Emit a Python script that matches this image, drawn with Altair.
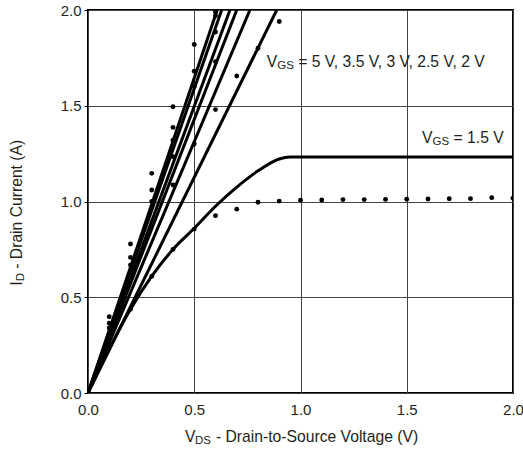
import altair as alt
import pandas as pd

FONT = "Liberation Sans"
INK = "#231f20"

# Straight output curves (VGS = 5 V ... 2 V): drain voltage where each reaches 2.0 A
steep_names = ["5 V", "3.5 V", "3 V", "2.5 V", "2 V (a)", "2 V"]
steep_vds_at_2a = [0.608, 0.629, 0.668, 0.700, 0.762, 0.888]

# VGS = 1.5 V curve
curve_vds = [0.0, 0.1, 0.2, 0.3, 0.4, 0.5, 0.6, 0.7, 0.8, 0.9, 0.95, 2.0]
curve_id = [0.0, 0.23, 0.437, 0.61, 0.75, 0.86, 0.975, 1.075, 1.16, 1.222, 1.232, 1.232]

# Measured points
dot_vds = [0.1, 0.1, 0.1,
           0.2, 0.2, 0.2, 0.2,
           0.3, 0.3, 0.3, 0.3,
           0.4, 0.4, 0.4, 0.4, 0.4, 0.4,
           0.5, 0.5, 0.5, 0.5, 0.5,
           0.6, 0.6, 0.6, 0.6, 0.6, 0.6,
           0.7, 0.7, 0.8, 0.8, 0.9, 0.9,
           1.0, 1.1, 1.2, 1.3, 1.4, 1.5, 1.6, 1.7, 1.8, 1.9, 2.0]
dot_id = [0.398, 0.364, 0.34,
          0.778, 0.708, 0.668, 0.437,
          1.147, 1.06, 1.0, 0.61,
          1.495, 1.387, 1.32, 1.234, 1.086, 0.75,
          1.82, 1.68, 1.60, 1.30, 0.856,
          1.97, 1.99, 1.885, 1.73, 1.48, 0.926,
          1.655, 0.96, 1.80, 0.996, 1.94, 1.002,
          1.007, 1.008, 1.01, 1.01, 1.011, 1.012, 1.013, 1.014, 1.015, 1.02, 1.017]

axis_ticks = [0.0, 0.5, 1.0, 1.5, 2.0]

rows = []
for name, xe in zip(steep_names, steep_vds_at_2a):
    rows.append({"series": name, "vds": 0.0, "id": 0.0})
    rows.append({"series": name, "vds": xe, "id": 2.0})
steep_df = pd.DataFrame(rows)
curve_df = pd.DataFrame({"vds": curve_vds, "id": curve_id})
dots_df = pd.DataFrame({"vds": dot_vds, "id": dot_id})

xscale = alt.Scale(domain=[0, 2], nice=False, zero=False)
yscale = alt.Scale(domain=[0, 2], nice=False, zero=False)

xaxis = alt.Axis(values=axis_ticks, format=".1f", title=None, grid=True,
                 ticks=False, labelPadding=9, domain=False, labelFlush=False)
yaxis = alt.Axis(values=axis_ticks, format=".1f", title=None, grid=True,
                 tickSize=4, tickColor="black", labelPadding=3, domain=False,
                 labelFlush=False)

base_x = alt.X("vds:Q", scale=xscale, axis=xaxis)
base_y = alt.Y("id:Q", scale=yscale, axis=yaxis)

steep = alt.Chart(steep_df).mark_line(color="black", strokeWidth=3, clip=True).encode(
    x=base_x, y=base_y, detail="series:N")
curve = alt.Chart(curve_df).mark_line(color="black", strokeWidth=3,
                                      interpolate="monotone", clip=True).encode(
    x="vds:Q", y="id:Q")
dots = alt.Chart(dots_df).mark_circle(color="black", opacity=1, size=24, clip=True).encode(
    x="vds:Q", y="id:Q")

MAIN = 15.7
SUB = 11.5


def label(x, y, text, dx=0, dy=0, size=MAIN, angle=0):
    df = pd.DataFrame({"vds": [x], "id": [y], "t": [text]})
    props = dict(align="left", baseline="middle", font=FONT, fontSize=size,
                 color=INK, dx=dx, dy=dy)
    if angle:
        props["angle"] = angle
    return alt.Chart(df).mark_text(**props).encode(x="vds:Q", y="id:Q", text="t:N")


texts = [
    # V_GS = 5 V, 3.5 V, 3 V, 2.5 V, 2 V
    label(0.841, 1.728, "V"),
    label(0.841, 1.728, "GS", dx=10.5, dy=4, size=SUB),
    label(0.841, 1.728, "= 5 V, 3.5 V, 3 V, 2.5 V, 2 V", dx=31.5),
    # V_GS = 1.5 V
    label(1.572, 1.332, "V"),
    label(1.572, 1.332, "GS", dx=10.5, dy=4, size=SUB),
    label(1.572, 1.332, "= 1.5 V", dx=31.5),
    # x axis title
    label(0.456, -0.23, "V"),
    label(0.456, -0.23, "DS", dx=10, dy=4, size=SUB),
    label(0.456, -0.23, "- Drain-to-Source Voltage (V)", dx=31),
    # y axis title (rotated; offsets are in the text's own frame)
    label(-0.334, 0.56, "I", angle=270),
    label(-0.334, 0.56, "D", dx=4.5, dy=4, size=SUB, angle=270),
    label(-0.334, 0.56, "- Drain Current (A)", dx=17, angle=270),
]

chart = alt.layer(steep, curve, dots, *texts).properties(
    width=425, height=383,
    padding={"left": 88, "top": 10, "right": 10, "bottom": 58},
    autosize=alt.AutoSizeParams(type="none"),
    background="white",
).configure_view(
    stroke="black", strokeWidth=2
).configure_axis(
    gridColor="#444444", gridWidth=1, gridOpacity=1,
    labelFont=FONT, labelFontSize=15, labelColor=INK,
)

chart.save("out.html", embed_options={"renderer": "svg", "actions": False})
